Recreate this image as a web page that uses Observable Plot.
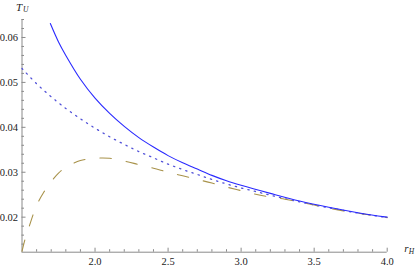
<!DOCTYPE html>
<html><head><meta charset="utf-8">
<script src="https://cdn.jsdelivr.net/npm/d3@7"></script>
<script src="https://cdn.jsdelivr.net/npm/@observablehq/plot@0.6"></script>
<style>html,body{margin:0;padding:0;background:#fff} svg text{font-family:"Liberation Serif","DejaVu Serif",serif !important}</style>
</head><body><div id="chart"></div>
<script>
// dotted curve
const dottedX = [1.5,1.6,1.7,1.8,1.9,2.0,2.1,2.2,2.3,2.4,2.5,2.6,2.7,2.8,2.9,3.0,3.1,3.2,3.3,3.4,3.5,3.6,3.7,3.8,3.9,4.0];
const dottedY = [0.0531,0.0497,0.0468,0.0442,0.0419,0.0398,0.0379,0.0362,0.0346,0.0332,0.0318,0.0306,0.0295,0.0284,0.0274,0.0265,0.0257,0.0249,0.0241,0.0234,0.0227,0.0221,0.0215,0.0209,0.0204,0.0199];
// solid curve
const solidX = [1.694,1.75,1.8,1.9,2.0,2.1,2.2,2.3,2.4,2.5,2.6,2.7,2.8,2.9,3.0,3.2,3.4,3.6,3.8,4.0];
const solidY = [0.0631,0.0590,0.0560,0.0507,0.0465,0.0431,0.0402,0.0377,0.0356,0.0337,0.0321,0.0307,0.0293,0.0281,0.0271,0.0253,0.0236,0.0222,0.0210,0.0200];
// dashed curve
const dashedX = [1.5,1.52,1.55,1.6,1.65,1.7,1.75,1.8,1.9,2.0,2.1,2.2,2.3,2.4,2.5,2.6,2.7,2.8,2.9,3.0,3.1,3.2,3.3,3.4,3.5,3.6,3.7,3.8,3.9,4.0];
const dashedY = [0.0124,0.0150,0.0180,0.0226,0.0256,0.0279,0.0298,0.0311,0.0326,0.0331,0.0331,0.0325,0.0317,0.0309,0.0300,0.0292,0.0284,0.0276,0.0267,0.0259,0.0251,0.0245,0.0240,0.0234,0.0227,0.0220,0.0214,0.0209,0.0204,0.0199];
// ticks
const xMajor = [2.0,2.5,3.0,3.5,4.0];
const xMinor = [1.6,1.7,1.8,1.9,2.1,2.2,2.3,2.4,2.6,2.7,2.8,2.9,3.1,3.2,3.3,3.4,3.6,3.7,3.8,3.9];
const yMajor = [0.02,0.03,0.04,0.05,0.06];
const yMinor = [0.014,0.016,0.018,0.022,0.024,0.026,0.028,0.032,0.034,0.036,0.038,0.042,0.044,0.046,0.048,0.052,0.054,0.056,0.058,0.062,0.064];
const xLabel = "r", xSub = "H", yLabel = "T", ySub = "U";

const zip = (xs, ys) => xs.map((x, i) => ({x, y: ys[i]}));
const dotted = zip(dottedX, dottedY), solid = zip(solidX, solidY), dashed = zip(dashedX, dashedY);
const axisColor = "#8a8a8a";
const serif = "Liberation Serif";

const chart = Plot.plot({
  width: 415, height: 268,
  marginLeft: 21.5, marginRight: 28.3, marginTop: 19, marginBottom: 16.3,
  style: {fontFamily: serif, fontSize: "10px", background: "#fff", overflow: "visible"},
  x: {domain: [1.5, 4.0]},
  y: {domain: [0.0122, 0.064]},
  marks: [
    Plot.ruleX([1.5], {stroke: axisColor}),
    Plot.ruleY([0.0122], {stroke: axisColor}),
    Plot.axisX(xMajor, {tickSize: -4, tickFormat: () => "", stroke: axisColor, label: null}),
    Plot.axisX(xMinor, {tickSize: -2.5, tickFormat: () => "", stroke: axisColor, label: null}),
    Plot.axisY(yMajor, {tickSize: -4, tickFormat: () => "", stroke: axisColor, label: null}),
    Plot.axisY(yMinor, {tickSize: -2.5, tickFormat: () => "", stroke: axisColor, label: null}),
    Plot.axisX(xMajor, {tickSize: 0, tickPadding: 5, tickFormat: d3.format(".1f"), fill: "#222", fontFamily: serif, fontSize: 10.5, label: null}),
    Plot.axisY(yMajor, {tickSize: 0, tickPadding: 4, tickFormat: d3.format(".2f"), fill: "#222", fontFamily: serif, fontSize: 10.5, label: null}),
    Plot.line(dotted, {x: "x", y: "y", curve: "catmull-rom", stroke: "#5050d8", strokeWidth: 1.3, strokeDasharray: "1.3,5.2"}),
    Plot.line(dashed, {x: "x", y: "y", curve: "catmull-rom", stroke: "#a8924a", strokeWidth: 1.1, strokeDasharray: "11.5,15"}),
    Plot.line(solid, {x: "x", y: "y", curve: "catmull-rom", stroke: "#2a2aff", strokeWidth: 1.1}),
    Plot.text([yLabel], {frameAnchor: "top-left", dx: -6, dy: -9, textAnchor: "start", lineAnchor: "bottom", fontStyle: "italic", fontFamily: serif, fontSize: 11, fill: "#222"}),
    Plot.text([ySub], {frameAnchor: "top-left", dx: 1, dy: -7.5, textAnchor: "start", lineAnchor: "bottom", fontStyle: "italic", fontFamily: serif, fontSize: 7.5, fill: "#222"}),
    Plot.text([xLabel], {frameAnchor: "bottom-right", dx: 17, dy: 0, textAnchor: "start", lineAnchor: "bottom", fontStyle: "italic", fontFamily: serif, fontSize: 11, fill: "#222"}),
    Plot.text([xSub], {frameAnchor: "bottom-right", dx: 21.5, dy: 2, textAnchor: "start", lineAnchor: "bottom", fontStyle: "italic", fontFamily: serif, fontSize: 7.5, fill: "#222"})
  ]
});
document.getElementById("chart").appendChild(chart);
</script>
</body></html>
